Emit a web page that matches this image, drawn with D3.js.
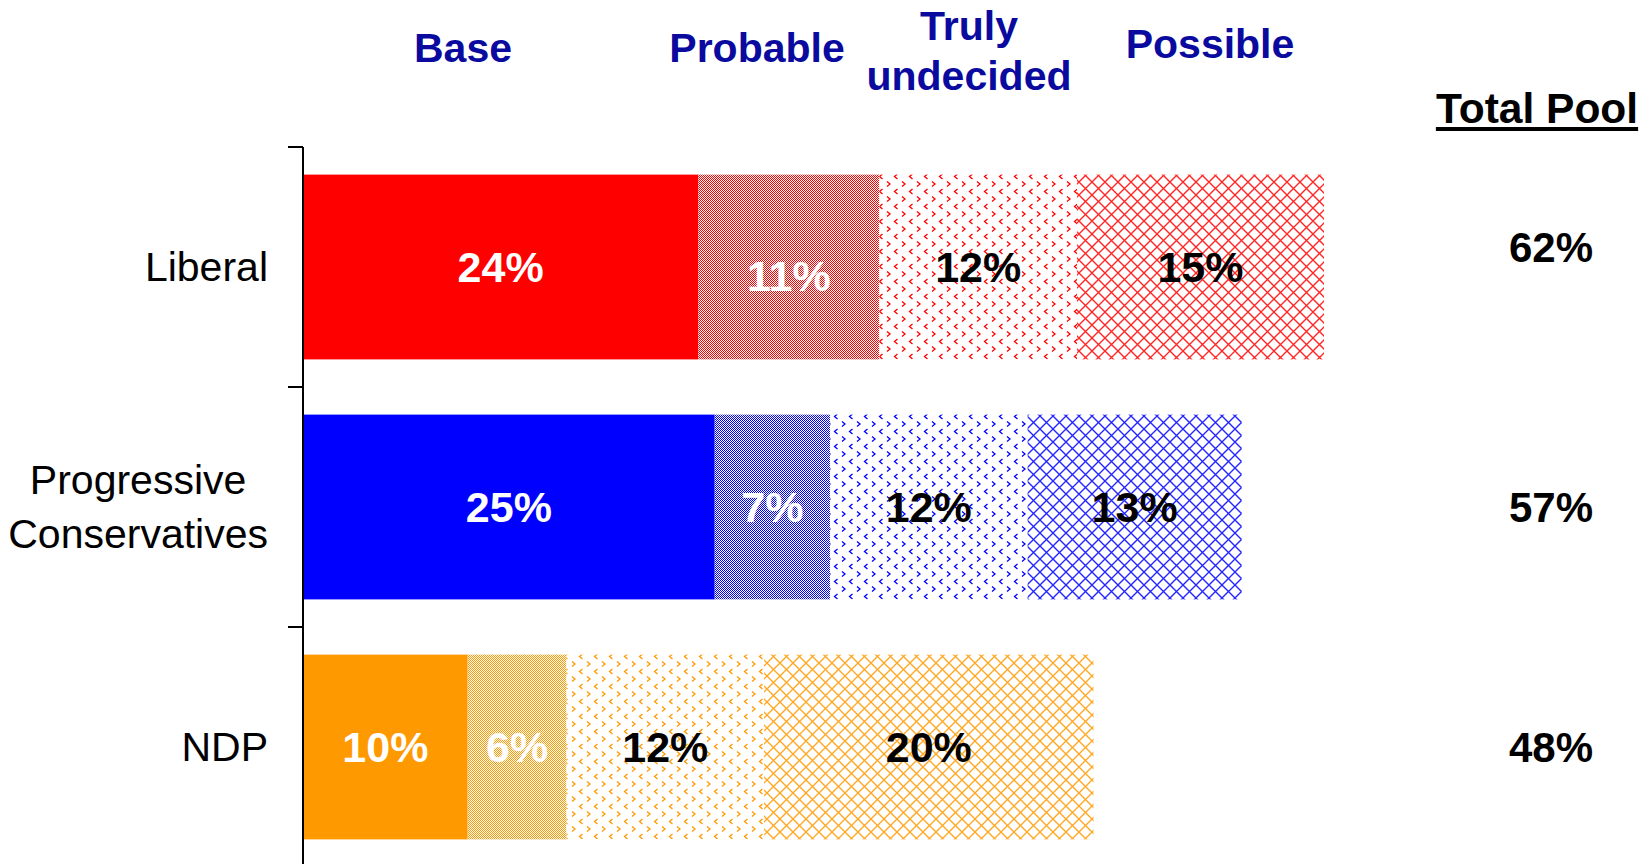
<!DOCTYPE html>
<html>
<head>
<meta charset="utf-8">
<script src="https://cdn.jsdelivr.net/npm/d3@7"></script>
<style>
  html, body { margin: 0; padding: 0; background: #ffffff; }
  svg { display: block; font-family: "Liberation Sans", Arial, Helvetica, sans-serif; }
</style>
</head>
<body>
<svg id="chart" width="1649" height="864"></svg>
<script>
// ---- Data ----
const categories = ["Liberal", "Progressive Conservatives", "NDP"];
const segmentNames = ["Base", "Probable", "Truly undecided", "Possible"];
const baseValues = [24, 25, 10];
const probableValues = [11, 7, 6];
const undecidedValues = [12, 12, 12];
const possibleValues = [15, 13, 20];
const totalPool = [62, 57, 48];
const partyColors = ["#ff0000", "#0000ff", "#ff9900"];

// ---- Layout ----
const W = 1649, H = 864;
const axisX = 303;
const xMax = 62;
const xRight = 1324;
const yTop = 147, yBottom = 867;
const headerColor = "#0a0a9f";
const headerX = [463, 757, 969, 1210];
const totalX = 1551;

const svg = d3.select("#chart");
const defs = svg.append("defs");

const x = d3.scaleLinear().domain([0, xMax]).range([axisX, xRight]);
const y = d3.scaleBand().domain(categories).range([yTop, yBottom])
  .paddingInner(0.23).paddingOuter(0.115);

// ---- Patterns per party ----
categories.forEach((c, i) => {
  const col = partyColors[i];
  const p1 = defs.append("pattern").attr("id", "prob" + i)
    .attr("patternUnits", "userSpaceOnUse").attr("width", 2).attr("height", 2);
  p1.append("rect").attr("width", 2).attr("height", 2).attr("fill", "#ffffff");
  p1.append("rect").attr("x", 0).attr("y", 0).attr("width", 1).attr("height", 1).attr("fill", col);
  p1.append("rect").attr("x", 1).attr("y", 1).attr("width", 1).attr("height", 1).attr("fill", col);

  const p2 = defs.append("pattern").attr("id", "und" + i)
    .attr("patternUnits", "userSpaceOnUse").attr("width", 15).attr("height", 15);
  p2.append("rect").attr("width", 15).attr("height", 15).attr("fill", "#ffffff");
  p2.append("path").attr("d", "M2,1.5 L5,4 L2,6.5").attr("fill", "none")
    .attr("stroke", col).attr("stroke-width", 1.3);
  p2.append("path").attr("d", "M12.5,9 L9.5,11.5 L12.5,14").attr("fill", "none")
    .attr("stroke", col).attr("stroke-width", 1.3);

  const s = 13;
  const p3 = defs.append("pattern").attr("id", "pos" + i)
    .attr("patternUnits", "userSpaceOnUse").attr("width", s).attr("height", s);
  p3.append("rect").attr("width", s).attr("height", s).attr("fill", "#ffffff");
  p3.append("path").attr("d", `M-1,-1 L${s+1},${s+1} M${s+1},-1 L-1,${s+1}`)
    .attr("stroke", col).attr("stroke-width", 1.4).attr("opacity", 0.85);
});

// ---- Build stacked rows ----
const rows = categories.map((c, i) => ({
  cat: c, idx: i,
  vals: [baseValues[i], probableValues[i], undecidedValues[i], possibleValues[i]],
  total: totalPool[i]
}));
const stacked = [];
rows.forEach(r => {
  let acc = 0;
  r.vals.forEach((v, k) => {
    stacked.push({ cat: r.cat, idx: r.idx, seg: k, v: v, x0: acc, x1: acc + v });
    acc += v;
  });
});

function fillFor(d) {
  if (d.seg === 0) return partyColors[d.idx];
  if (d.seg === 1) return `url(#prob${d.idx})`;
  if (d.seg === 2) return `url(#und${d.idx})`;
  return `url(#pos${d.idx})`;
}

svg.append("g").selectAll("rect").data(stacked).join("rect")
  .attr("x", d => x(d.x0))
  .attr("y", d => y(d.cat))
  .attr("width", d => x(d.x1) - x(d.x0))
  .attr("height", y.bandwidth())
  .attr("fill", fillFor);

// ---- Segment labels ----
svg.append("g").selectAll("text").data(stacked).join("text")
  .attr("x", d => (x(d.x0) + x(d.x1)) / 2)
  .attr("y", d => y(d.cat) + y.bandwidth() / 2 + 15 + (d.idx === 0 && d.seg === 1 ? 9 : 0))
  .attr("text-anchor", "middle")
  .attr("font-size", 43)
  .attr("font-weight", "bold")
  .attr("fill", d => d.seg < 2 ? "#ffffff" : "#000000")
  .text(d => d.v + "%");

// ---- Y axis ----
const axisG = svg.append("g");
axisG.append("line")
  .attr("x1", axisX).attr("x2", axisX)
  .attr("y1", yTop).attr("y2", H + 5)
  .attr("stroke", "#000").attr("stroke-width", 2);
const tickYs = categories.map(c => y(c) - y.step() * y.paddingInner() / 2)
  .concat([yBottom]);
tickYs[0] = yTop;
axisG.selectAll("line.tick").data(tickYs).join("line")
  .attr("class", "tick")
  .attr("x1", axisX - 15).attr("x2", axisX)
  .attr("y1", d => d).attr("y2", d => d)
  .attr("stroke", "#000").attr("stroke-width", 2);

// Category labels: block right-aligned, lines centred within block
const catG = svg.append("g");
const labelRight = 268;
categories.forEach(c => {
  const words = c === "Progressive Conservatives" ? c.split(" ") : [c];
  const cy = y(c) + y.bandwidth() / 2;
  const lh = 54;
  const t = catG.append("text")
    .attr("text-anchor", "middle")
    .attr("font-size", 41)
    .attr("fill", "#000");
  const spans = words.map((w, k) => t.append("tspan")
      .attr("x", 0)
      .attr("y", cy + 14 + (k - (words.length - 1) / 2) * lh)
      .text(w));
  const maxW = d3.max(spans, s => s.node().getComputedTextLength());
  spans.forEach(s => s.attr("x", labelRight - maxW / 2));
});

// ---- Column headers ----
const hdrG = svg.append("g").attr("fill", headerColor)
  .attr("font-weight", "bold").attr("font-size", 41).attr("text-anchor", "middle");
segmentNames.forEach((n, k) => {
  if (n === "Truly undecided") {
    const t = hdrG.append("text");
    t.append("tspan").attr("x", headerX[k]).attr("y", 40).text("Truly");
    t.append("tspan").attr("x", headerX[k]).attr("y", 90).text("undecided");
  } else {
    hdrG.append("text").attr("x", headerX[k]).attr("y", n === "Possible" ? 58 : 62).text(n);
  }
});

// ---- Total Pool ----
const tp = svg.append("text")
  .attr("x", 1537).attr("y", 123)
  .attr("text-anchor", "middle")
  .attr("font-size", 42.5).attr("font-weight", "bold").attr("fill", "#000")
  .text("Total Pool");
const bb = tp.node().getBBox();
svg.append("rect")
  .attr("x", bb.x).attr("y", 127)
  .attr("width", bb.width).attr("height", 4)
  .attr("fill", "#000");

svg.append("g").selectAll("text").data(rows).join("text")
  .attr("x", totalX)
  .attr("y", d => y(d.cat) + y.bandwidth() / 2 + 15 - (d.idx === 0 ? 20 : 0))
  .attr("text-anchor", "middle")
  .attr("font-size", 42).attr("font-weight", "bold").attr("fill", "#000")
  .text(d => d.total + "%");
</script>
</body>
</html>
